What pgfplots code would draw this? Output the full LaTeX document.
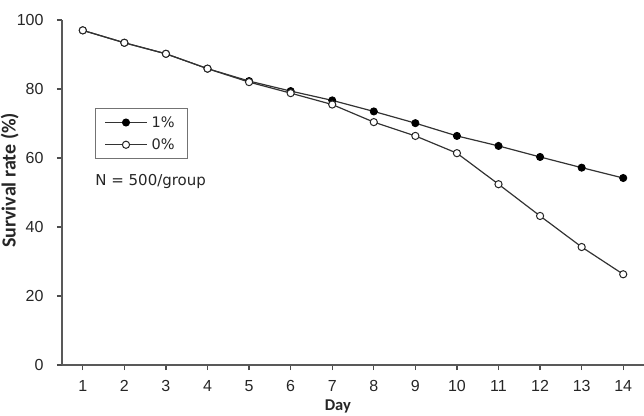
\documentclass[border=0pt]{standalone}
\usepackage{pgfplots}
\pgfplotsset{compat=1.18}
\usepackage{fontspec}
\setmainfont{Liberation Sans}
\newfontfamily\carlito{Carlito}
\newfontfamily\dejavu{DejaVu Sans}
\begin{document}
\begin{tikzpicture}
\begin{axis}[
  at={(62pt,50pt)}, anchor=south west,
  scale only axis, width=582pt, height=345pt,
  xmin=0.5, xmax=14.5, ymin=0, ymax=100,
  axis x line=bottom, axis y line=left,
  axis line style={-, draw=black!65, line width=1.5pt},
  xtick={1,...,14}, ytick={0,20,...,100},
  tick align=outside, major tick length=5pt,
  tick style={black!70, line width=1.2pt},
  ticklabel style={font=\fontsize{16}{16}\selectfont, text=black!85},
  xticklabel style={yshift=-7pt},
  yticklabel style={xshift=-10pt},
  /pgf/number format/assume math mode=true,
  xlabel={Day},
  xlabel style={at={(axis description cs:0.474,-0.1)}, anchor=north, inner sep=0pt, font=\carlito\bfseries\fontsize{16.5}{16.5}\selectfont, text=black!85},
  ylabel={Survival rate (\%)},
  ylabel style={at={(axis description cs:-0.09,0.535)}, anchor=center, inner sep=0pt, font=\carlito\bfseries\fontsize{20}{20}\selectfont, text=black!85},
  legend style={at={(axis description cs:0.0567,0.745)}, anchor=north west,
    draw=black!55, line width=0.8pt, font=\dejavu\fontsize{14.5}{14.5}\selectfont,
    inner xsep=9pt, inner ysep=6pt, row sep=6pt, text=black!85,
    nodes={inner xsep=4pt}},
  legend cell align=left,
  legend image code/.code={\draw[#1, mark repeat=2, mark phase=2] plot coordinates {(0pt,0pt) (21pt,0pt) (42pt,0pt)};},
]
\addplot[black!80, line width=1.2pt, mark=*, mark size=3.6pt, mark options={fill=black, draw=black, line width=0.8pt}]
coordinates {(1,97.0) (2,93.4) (3,90.2) (4,85.9) (5,82.3) (6,79.4) (7,76.7) (8,73.5) (9,70.1) (10,66.4) (11,63.5) (12,60.3) (13,57.2) (14,54.2)};
\addlegendentry{1\%}
\addplot[black!80, line width=1.2pt, mark=*, mark size=3.6pt, mark options={fill=white, draw=black!85, line width=1pt}]
coordinates {(1,97.0) (2,93.4) (3,90.2) (4,85.9) (5,82.0) (6,78.8) (7,75.5) (8,70.4) (9,66.4) (10,61.4) (11,52.4) (12,43.2) (13,34.2) (14,26.3)};
\addlegendentry{0\%}
\node[anchor=west, inner sep=0pt, font=\dejavu\fontsize{15}{15}\selectfont, text=black!85] at (axis description cs:0.057,0.533) {N = 500/group};
\end{axis}
\pgfresetboundingbox
\path[use as bounding box] (0,0) rectangle (644pt,415pt);
\end{tikzpicture}
\end{document}
